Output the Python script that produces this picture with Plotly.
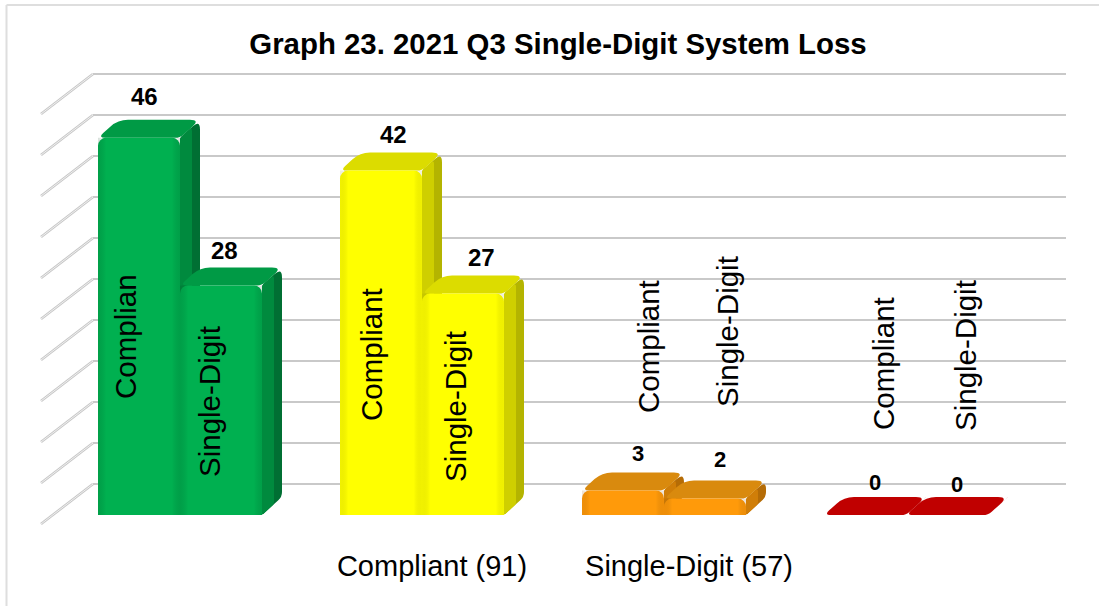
import plotly.graph_objects as go

# ---------- data ----------
groups = [0, 1, 2, 3]
compliant_values = [46, 42, 3, 0]
single_digit_values = [28, 27, 2, 0]
group_labels = ["", "Compliant (91)", "Single-Digit (57)", ""]
rotated_compliant = ["Complian", "Compliant", "Compliant", "Compliant"]
rotated_single = ["Single-Digit", "Single-Digit", "Single-Digit", "Single-Digit"]
title_text = "Graph 23. 2021 Q3 Single-Digit System Loss"
grid_values = [0, 5, 10, 15, 20, 25, 30, 35, 40, 45, 50]

# ---------- colours: front, top, side, dark side ----------
palette = [
    ("#00B050", "#009A45", "#008A3E", "#006F33"),
    ("#FFFF00", "#DCDC00", "#CFCF00", "#B4B400"),
    ("#FF9A0A", "#D98A0E", "#D07E08", "#B56C06"),
    ("#CC0000", "#C00000", "#A80000", "#900000"),
]

# ---------- geometry (pixels) ----------
W, H = 1099, 606
PX_X = 242.0          # pixels per group
PX_Y = 8.2            # pixels per value unit
X0 = 180.0            # pixel of group 0 centre
Y0 = 515.0            # pixel of front baseline
DX, DY = 20.0, 18.0   # bar depth
BAR = 82.0
WALL_L, WALL_R, WALL_B = 93.0, 1066.0, 484.0
SIDE_DX, SIDE_DY = 52.0, 40.0
PAD = 0.5             # value units of wall axis outside the grid

ux = lambda p: p / PX_X
uy = lambda p: p / PX_Y


def rounded(points, r):
    """Closed SVG path through points with rounded corners, r in pixels."""
    n = len(points)
    out = []
    for i in range(n):
        (x, y), rad = points[i], r[i]
        (xp, yp), (xn, yn) = points[i - 1], points[(i + 1) % n]
        def toward(ax, ay):
            dx, dy = (ax - x) * PX_X, (ay - y) * PX_Y
            d = (dx * dx + dy * dy) ** 0.5 or 1
            k = min(rad, d / 2) / d
            return x + (ax - x) * k, y + (ay - y) * k
        a, b = toward(xp, yp), toward(xn, yn)
        out.append(("M" if i == 0 else "L") + f"{a[0]:.5f},{a[1]:.5f}")
        out.append(f"Q{x:.5f},{y:.5f} {b[0]:.5f},{b[1]:.5f}")
    return " ".join(out) + " Z"


fig = go.Figure()

# back wall on its own axes, drawn first so the bars sit on top
fig.add_trace(go.Scatter(x=[0, 1], y=[0, 50], mode="markers", marker=dict(opacity=0),
                         xaxis="x", yaxis="y", hoverinfo="skip", showlegend=False))

# front faces
bar_w = BAR / PX_X
colors = [p[0] for p in palette]
for name, vals, off in (("Compliant", compliant_values, -bar_w), ("Single-Digit", single_digit_values, 0.0)):
    fig.add_trace(go.Bar(x=groups, y=vals, name=name, width=bar_w, offset=off,
                         marker=dict(color=colors, line=dict(width=0), cornerradius=8),
                         xaxis="x2", yaxis="y2", hoverinfo="skip", showlegend=False))

shapes = []

# side-wall grid lines, computed in the bars' axes
wall_x = (WALL_L - X0) / PX_X
for v in grid_values:
    y_back = (Y0 - WALL_B) / PX_Y + v
    for color, width in (("#C6C6C6", 2.6), ("#F4F4F4", 0.9)):
        shapes.append(dict(type="line", xref="x2", yref="y2", layer="below",
                           x0=wall_x - ux(SIDE_DX), y0=y_back - uy(SIDE_DY), x1=wall_x, y1=y_back,
                           line=dict(color=color, width=width)))

# depth faces: laid under the bars, in order, so neighbours overlap properly
dx, dy = ux(DX), uy(DY)
for g, cv, sv, pal in zip(groups, compliant_values, single_digit_values, palette):
    for off, v in ((-bar_w, cv), (0.0, sv)):
        x0, x1 = g + off, g + off + bar_w
        side = [(x1, 0), (x1 + dx, dy), (x1 + dx, v + dy), (x1, v)]
        top = [(x0, v), (x0 + dx, v + dy), (x1 + dx, v + dy), (x1, v)]
        shapes.append(dict(type="path", xref="x2", yref="y2", layer="below",
                           path=rounded(side, [2, 5, 10, 2]), fillcolor=pal[3],
                           line=dict(width=0)))
        band = [(x1, 0), (x1 + dx * 0.6, dy * 0.6), (x1 + dx * 0.6, v + dy * 0.6), (x1, v)]
        shapes.append(dict(type="path", xref="x2", yref="y2", layer="below",
                           path=rounded(band, [2, 2, 4, 2]), fillcolor=pal[2],
                           line=dict(width=0)))
        shapes.append(dict(type="path", xref="x2", yref="y2", layer="below",
                           path=rounded(top, [7, 10, 10, 5]), fillcolor=pal[1],
                           line=dict(width=0)))

# soft bevel over the front faces: only the edges darken
shade = {
    0: "rgba(0,70,30,0.16)", 1: "rgba(170,170,0,0.16)",
    2: "rgba(170,90,0,0.18)", 3: "rgba(90,0,0,0.10)",
}
clear = "rgba(0,0,0,0)"
for g, cv, sv in zip(groups, compliant_values, single_digit_values):
    for off, v in ((-bar_w, cv), (0.0, sv)):
        if v <= 0:
            continue
        x0, x1 = g + off, g + off + bar_w
        fig.add_trace(go.Scatter(
            x=[x0, x1, x1, x0, x0], y=[0, 0, v, v, 0], mode="lines", line=dict(width=0),
            fill="toself",
            fillgradient=dict(type="horizontal", colorscale=[
                [0, shade[g]], [0.1, clear], [0.9, clear], [1, shade[g]]]),
            xaxis="x2", yaxis="y2", hoverinfo="skip", showlegend=False))

# value labels: pixel shifts from each bar's value on the group centre
annotations = []
label_offsets = [(-36, 41), (44, 35), (-29, 36), (59, 36), (-26, 37), (56, 39), (-31, 33), (51, 31)]
value_seq = [v for pair in zip(compliant_values, single_digit_values) for v in pair]
group_seq = [g for g in groups for _ in range(2)]
for g, v, (xs, ys) in zip(group_seq, value_seq, label_offsets):
    size = 24 if v > 9 else 22
    annotations.append(dict(x=g, y=v, xref="x2", yref="y2", text=str(v), showarrow=False,
                            xshift=xs, yshift=ys,
                            font=dict(family="Liberation Sans", size=size, color="#000000", weight="bold")))

# rotated names: pixel centres
rot_pos = [(125, 337), (209, 402), (371, 355), (455, 407), (648, 347), (727, 332), (883, 364), (965, 356)]
names = [n for pair in zip(rotated_compliant, rotated_single) for n in pair]
for (px, py), n in zip(rot_pos, names):
    annotations.append(dict(x=(px - X0) / PX_X, y=(Y0 - py) / PX_Y, xref="x2", yref="y2",
                            text=n, textangle=-90, showarrow=False,
                            font=dict(family="Liberation Sans", size=29.5, color="#000000")))

tick_shift = [0, 10 / PX_X, 25 / PX_X, 0]

fig.update_layout(
    width=W, height=H, margin=dict(l=0, r=0, t=0, b=0),
    paper_bgcolor="#FFFFFF", plot_bgcolor="rgba(0,0,0,0)",
    barmode="overlay", showlegend=False,
    title=dict(text=title_text, x=558 / W, xanchor="center", y=1 - 44 / H, yanchor="middle",
               font=dict(family="Liberation Sans", size=29.4, color="#000000", weight="bold")),
    xaxis=dict(domain=[WALL_L / W, WALL_R / W], range=[0, 1], visible=False, anchor="y"),
    yaxis=dict(domain=[1 - (WALL_B + PAD * PX_Y) / H, 1 - (WALL_B - (50 + PAD) * PX_Y) / H],
               range=[-PAD, 50 + PAD], anchor="x",
               tickvals=grid_values, showgrid=True, gridcolor="#C9C9C9", gridwidth=2,
               zeroline=False, showticklabels=False, ticks="", showline=False),
    xaxis2=dict(domain=[0, 1], range=[(0 - X0) / PX_X, (W - X0) / PX_X], anchor="free",
                position=1 - 546 / H, tickmode="array",
                tickvals=[g + s for g, s in zip(groups, tick_shift)], ticktext=group_labels,
                showgrid=False, zeroline=False, showline=False, ticks="",
                tickfont=dict(family="Liberation Sans", size=29, color="#000000")),
    yaxis2=dict(domain=[0, 1], range=[(Y0 - H) / PX_Y, Y0 / PX_Y], anchor="x2",
                showgrid=False, zeroline=False, showticklabels=False, ticks="", showline=False),
    shapes=shapes, annotations=annotations,
)

# chart frame: left and top edges
fig.add_shape(type="line", xref="paper", yref="paper", x0=6.5 / W, x1=6.5 / W, y0=0, y1=1 - 5 / H,
              line=dict(color="#DEDEDE", width=2))
fig.add_shape(type="line", xref="paper", yref="paper", x0=6.5 / W, x1=1, y0=1 - 5 / H, y1=1 - 5 / H,
              line=dict(color="#DEDEDE", width=2))

fig.write_html("out.html", config=dict(displayModeBar=False),
               post_script="document.body.style.margin='0';")
